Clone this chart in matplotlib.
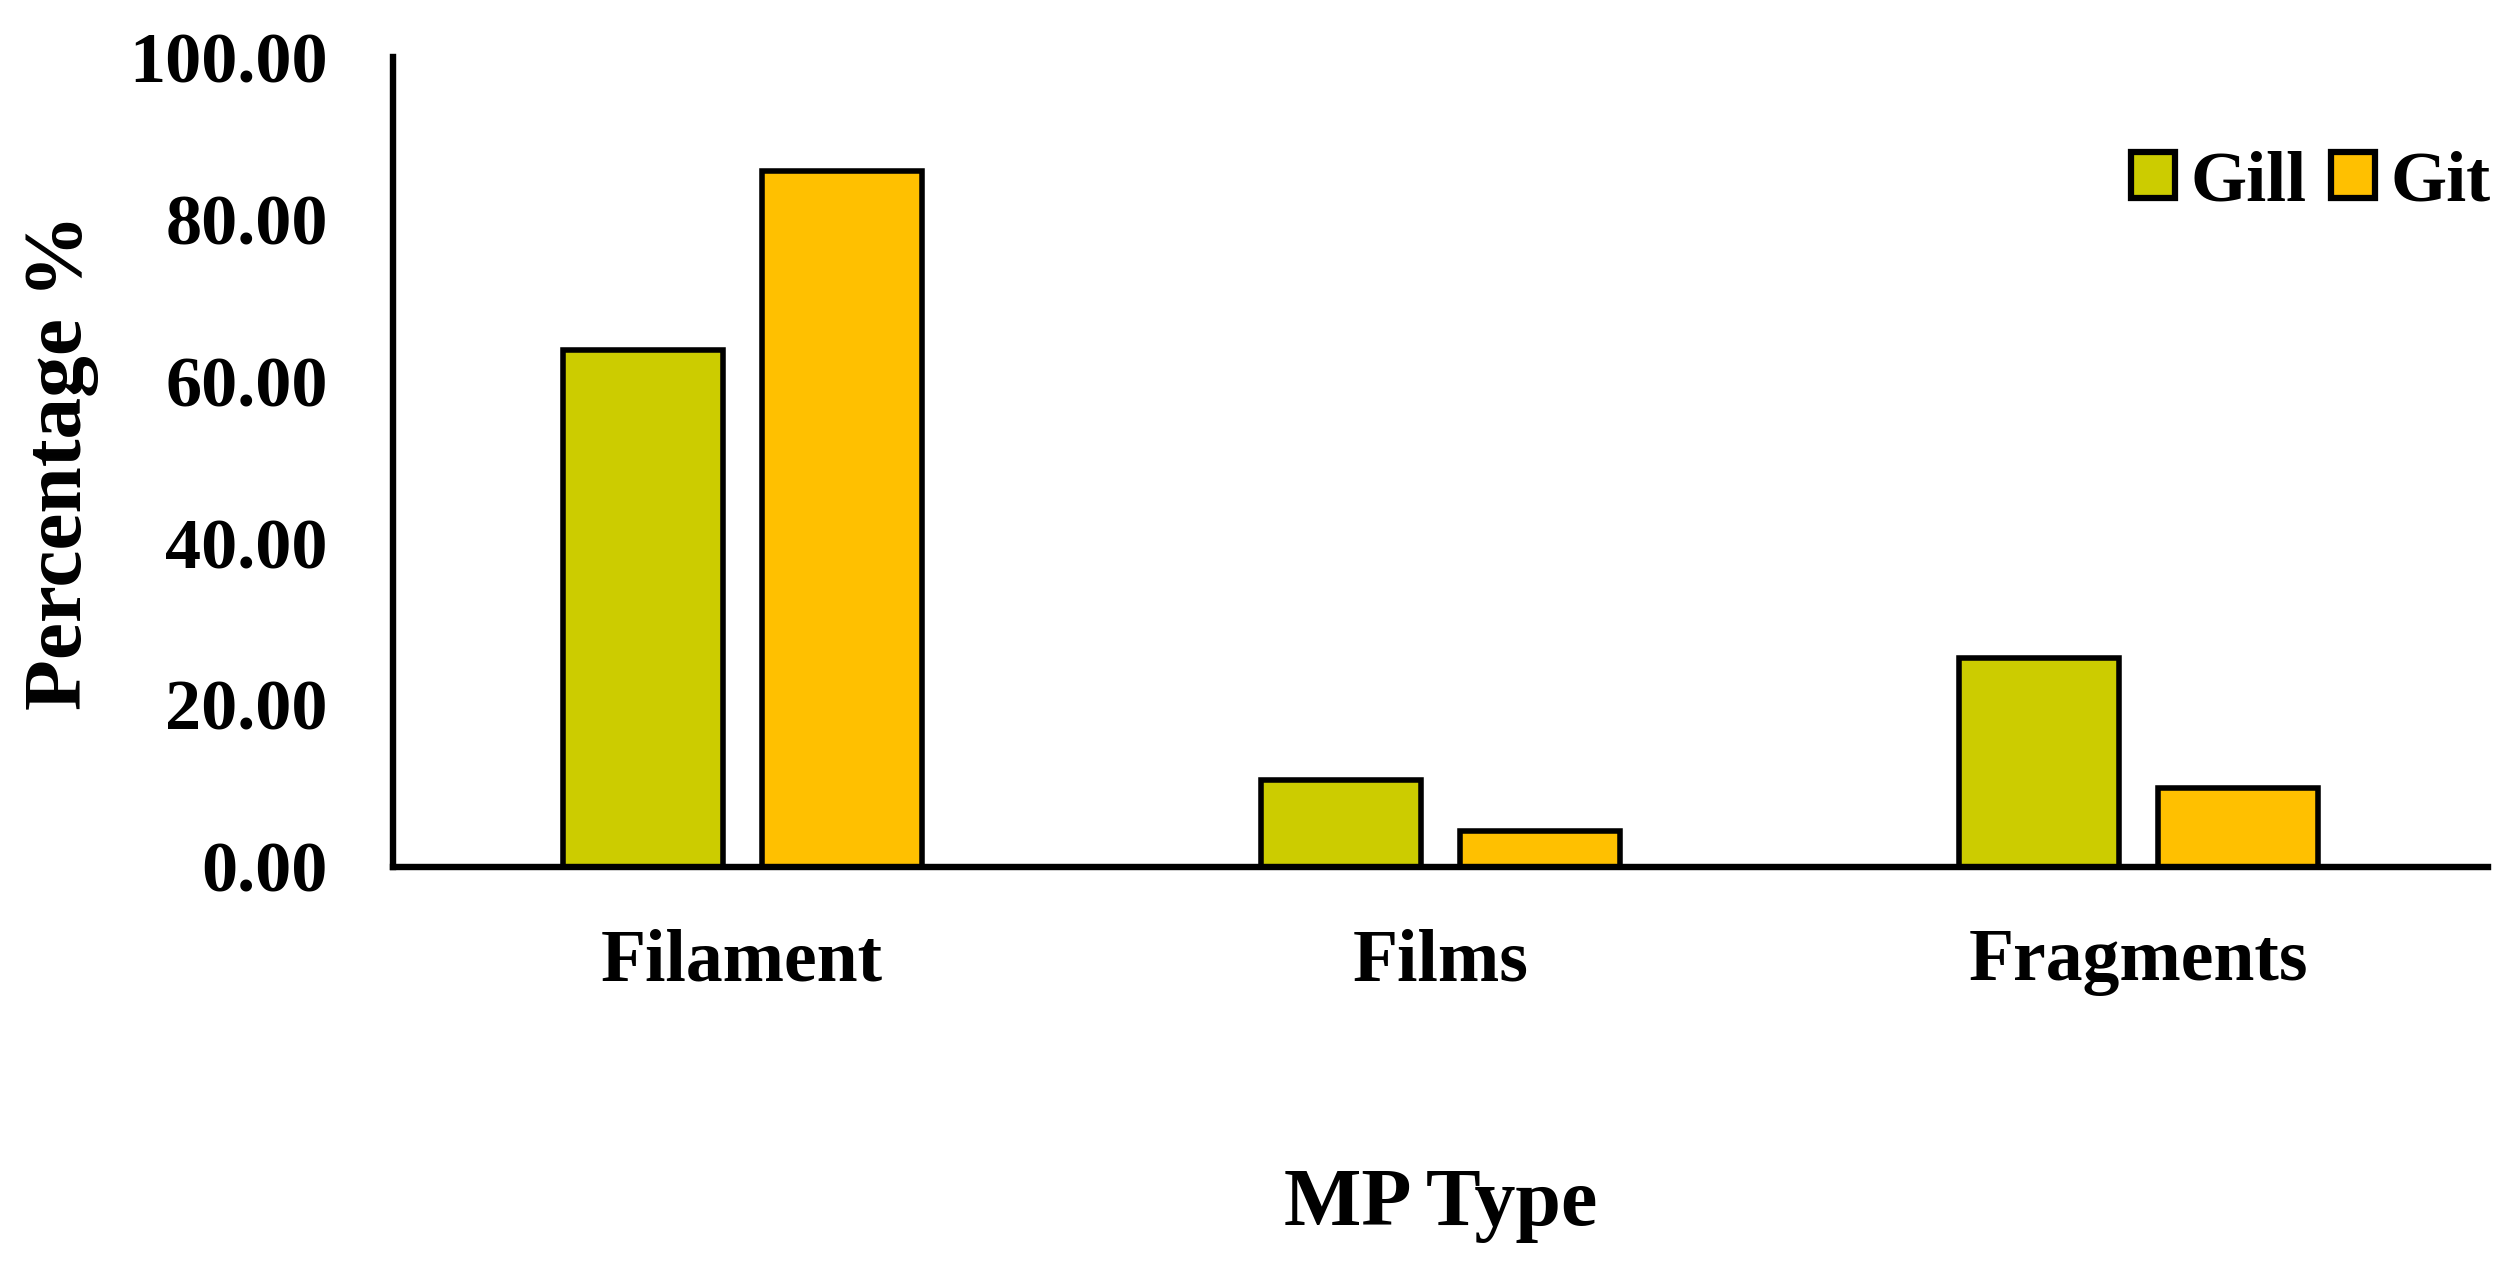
import matplotlib
matplotlib.use('Agg')
import matplotlib.pyplot as plt
import numpy as np

categories = ['Filament', 'Films', 'Fragments']
gill = [63.9, 10.7, 25.8]
git = [86.0, 4.4, 9.8]
series_names = ['Gill', 'Git']
colors = ['#CCCC00', '#FFC000']
yticks = [0, 20, 40, 60, 80, 100]

plt.rcParams['font.family'] = ['Liberation Serif', 'DejaVu Serif']
plt.rcParams['font.weight'] = 'bold'

fig = plt.figure(figsize=(25.18, 12.73), dpi=100)
ax = fig.add_axes([0.1561, 0.319, 0.832, 0.636])

x = np.arange(len(categories))
w = 0.229
offsets = [-0.1425, 0.1425]
for i, (vals, name) in enumerate(zip([gill, git], series_names)):
    ax.bar(x + offsets[i], vals, w, color=colors[i], edgecolor='black', linewidth=4, label=name)

ax.set_xlim(-0.5, 2.5)
ax.set_ylim(0, 100)
ax.set_yticks(yticks)
ax.set_yticklabels(['%.2f' % v for v in yticks])
ax.set_xticks(x)
ax.set_xticklabels(categories)
ax.tick_params(axis='both', length=0)
ax.tick_params(axis='y', pad=47, labelsize=52)
ax.tick_params(axis='x', pad=44, labelsize=53)
for lbl in ax.get_xticklabels() + ax.get_yticklabels():
    lbl.set_fontweight('bold')

for s in ['top', 'right']:
    ax.spines[s].set_visible(False)
for s in ['left', 'bottom']:
    ax.spines[s].set_linewidth(4.6)

ax.set_ylabel('Percentage %', fontsize=60, fontweight='bold')
ax.yaxis.set_label_coords(-0.1403, 0.5)
ax.set_xlabel('MP Type', fontsize=59, fontweight='bold')
ax.xaxis.set_label_coords(0.5, -0.3716)

leg = ax.legend(loc='center right', bbox_to_anchor=(1.015, 0.845), ncol=2, frameon=False,
                fontsize=52, handlelength=0.61, handleheight=0.61, handletextpad=0.21,
                columnspacing=0.34, borderaxespad=0)
for t in leg.get_texts():
    t.set_fontweight('bold')
for p in leg.get_patches():
    p.set_linewidth(4.5)

fig.savefig('out.png', dpi=100)
